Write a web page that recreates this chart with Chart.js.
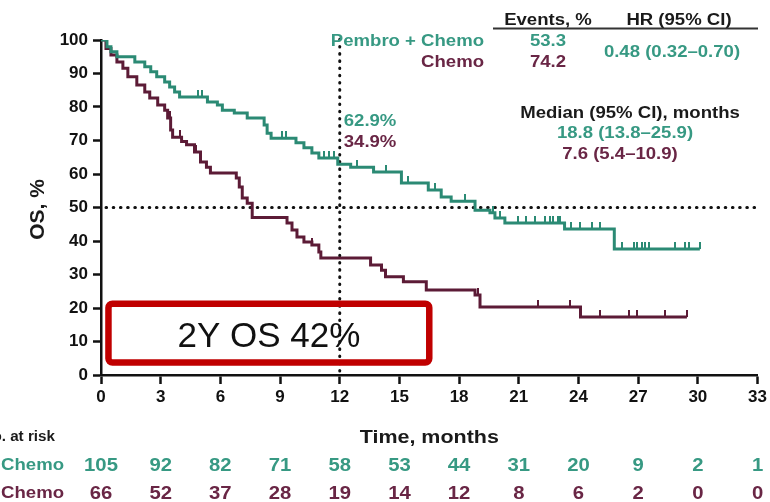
<!DOCTYPE html>
<html>
<head>
<meta charset="utf-8">
<script src="https://cdn.jsdelivr.net/npm/chart.js@4/dist/chart.umd.min.js"></script>
<style>
  html, body { margin: 0; padding: 0; background: #ffffff; }
  #wrap { width: 770px; height: 502px; }
</style>
</head>
<body>
<div id="wrap"><canvas id="km" width="770" height="502"></canvas></div>
<script>
// Kaplan–Meier overall survival, Pembro + Chemo vs Chemo
const months = [0, 3, 6, 9, 12, 15, 18, 21, 24, 27, 30, 33];

// Step points: time of event (months) and survival after the event (%)
const pembroTimes = [0, 0.3, 0.5, 0.8, 1.7, 2.2, 2.5, 2.8, 3.2, 3.45, 3.7, 3.95, 5.35, 5.85, 6.1, 6.7, 7.35, 8.2, 8.35, 8.55, 9.8, 10.2, 10.6, 10.95, 11.9, 12.55, 13.7, 15.1, 16.45, 17.1, 17.6, 18.8, 19.55, 19.8, 20.3, 23.3, 25.8, 30.1];
const pembroOS    = [100, 98, 96.5, 95, 93.4, 92, 90.5, 89, 87.5, 86, 84.5, 83, 81.5, 80.6, 79, 78.2, 76.7, 74.6, 72.2, 70.7, 69.3, 67.8, 66.3, 64.8, 62.9, 62, 60.6, 57.3, 55.2, 53.1, 51.9, 49.2, 48.4, 46.9, 45.4, 43.6, 37.6, 37.6];

const chemoTimes = [0, 0.25, 0.5, 0.8, 1.1, 1.35, 1.8, 2.2, 2.45, 2.85, 3.2, 3.35, 3.5, 3.6, 4.05, 4.3, 4.7, 5.0, 5.3, 5.5, 6.8, 6.95, 7.1, 7.35, 7.6, 9.35, 9.6, 9.85, 10.2, 10.6, 10.95, 11.05, 13.55, 14.1, 14.3, 15.2, 16.35, 18.8, 19.05, 24.1, 29.45];
const chemoOS    = [100, 97.5, 95.5, 93.4, 91.6, 89, 86.6, 84.5, 82.7, 80.6, 79, 76.7, 73.1, 71, 69.7, 68.7, 66.6, 63.6, 62, 60.3, 58.8, 56.1, 52.8, 51.3, 47, 45.4, 43.3, 41.2, 39.7, 38.8, 36.7, 34.9, 32.8, 31.3, 29.3, 27.8, 25.4, 23.9, 20.3, 17.3, 17.3];

// Censoring times (months)
const pembroCensored = [4.9, 5.1, 9.1, 9.3, 11.2, 11.45, 11.7, 12.85, 14.35, 15.45, 16.8, 18.3, 19.7, 20.05, 20.95, 21.35, 21.8, 22.3, 22.55, 22.7, 22.95, 23.05, 23.6, 24.1, 24.7, 25.1, 26.2, 26.8, 26.95, 27.2, 27.35, 27.55, 28.85, 29.35, 29.55, 30.1];
const chemoCensored  = [3.45, 3.95, 4.8, 10.6, 14.3, 18.95, 21.95, 23.55, 25.1, 26.55, 26.95, 28.35, 29.45];

// Number at risk at each tick
const atRiskPembro = [105, 92, 82, 71, 58, 53, 44, 31, 20, 9, 2, 1];
const atRiskChemo  = [66, 52, 37, 28, 19, 14, 12, 8, 6, 2, 0, 0];

// Summary statistics
const armNames   = ['Pembro + Chemo', 'Chemo'];
const eventsPct  = ['53.3', '74.2'];
const hazard     = '0.48 (0.32\u20130.70)';
const medians    = ['18.8 (13.8\u201325.9)', '7.6 (5.4\u201310.9)'];
const os12       = [62.9, 34.9];
const landmark   = 12;
const callout    = '2Y OS 42%';

const TEAL = '#2b8a74';
const TEAL_TXT = '#379983';
const MAROON = '#5c1b36';
const MAROON_TXT = '#692645';
const FONT = "'Liberation Sans', Arial, Helvetica, sans-serif";

function survivalAt(times, os, t) {
  let v = os[0];
  for (let i = 0; i < times.length; i++) { if (times[i] <= t) v = os[i]; }
  return v;
}

function censorMark(color) {
  const c = document.createElement('canvas');
  c.width = 2; c.height = 14;
  const g = c.getContext('2d');
  g.fillStyle = color;
  g.fillRect(0, 0, 2, 7);
  return c;
}

function drawText(ctx, s, x, y, o) {
  ctx.save();
  ctx.font = (o.weight || 'bold') + ' ' + o.size + 'px ' + FONT;
  ctx.fillStyle = o.color || '#111';
  ctx.textAlign = o.align || 'center';
  ctx.textBaseline = o.baseline || 'alphabetic';
  ctx.translate(x, y);
  if (o.rotate) ctx.rotate(o.rotate);
  ctx.scale(o.sx || 1, 1);
  ctx.fillText(s, 0, 0);
  ctx.restore();
}

function dotted(ctx, x1, y1, x2, y2) {
  ctx.save();
  ctx.strokeStyle = '#111';
  ctx.lineWidth = 3;
  ctx.lineCap = 'round';
  ctx.setLineDash([0.6, 6.6]);
  ctx.beginPath();
  ctx.moveTo(x1, y1);
  ctx.lineTo(x2, y2);
  ctx.stroke();
  ctx.restore();
}

const guides = {
  id: 'guides',
  beforeDatasetsDraw(chart) {
    const { ctx, scales: { x, y } } = chart;
    dotted(ctx, x.getPixelForValue(0) + 5, y.getPixelForValue(50), x.getPixelForValue(33), y.getPixelForValue(50));
    dotted(ctx, x.getPixelForValue(landmark), y.getPixelForValue(0) - 4, x.getPixelForValue(landmark), y.getPixelForValue(101));
  },
  afterDatasetsDraw(chart) {
    const { ctx, scales: { x, y } } = chart;
    const SX = 1.16;

    // Callout box
    const bx1 = x.getPixelForValue(0.375), bx2 = x.getPixelForValue(16.5);
    const by1 = y.getPixelForValue(21.3), by2 = y.getPixelForValue(3.7);
    ctx.save();
    ctx.strokeStyle = '#c00000';
    ctx.lineWidth = 6.5;
    ctx.beginPath();
    ctx.roundRect(bx1, by1, bx2 - bx1, by2 - by1, 4);
    ctx.stroke();
    ctx.restore();
    drawText(ctx, callout, (bx1 + bx2) / 2, by2 - 16, { size: 35, weight: 'normal', color: '#111' });

    // Landmark values
    const lx = x.getPixelForValue(landmark) + 4;
    drawText(ctx, os12[0].toFixed(1) + '%', lx, 126, { size: 16, color: TEAL_TXT, align: 'left', sx: SX });
    drawText(ctx, os12[1].toFixed(1) + '%', lx, 147, { size: 16, color: MAROON_TXT, align: 'left', sx: SX });

    // Summary table
    drawText(ctx, 'Events, %', 548, 25, { size: 16, color: '#1a1a1a', sx: SX });
    drawText(ctx, 'HR (95% CI)', 679, 25, { size: 16, color: '#1a1a1a', sx: SX });
    ctx.save();
    ctx.strokeStyle = '#333';
    ctx.lineWidth = 1.8;
    ctx.beginPath();
    ctx.moveTo(493, 28.5);
    ctx.lineTo(758, 28.5);
    ctx.stroke();
    ctx.restore();
    drawText(ctx, armNames[0], 484, 46, { size: 16, color: TEAL_TXT, align: 'right', sx: SX });
    drawText(ctx, armNames[1], 484, 67, { size: 16, color: MAROON_TXT, align: 'right', sx: SX });
    drawText(ctx, eventsPct[0], 548, 46, { size: 16, color: TEAL_TXT, sx: SX });
    drawText(ctx, eventsPct[1], 548, 67, { size: 16, color: MAROON_TXT, sx: SX });
    drawText(ctx, hazard, 672, 57, { size: 16, color: TEAL_TXT, sx: SX });
    drawText(ctx, 'Median (95% CI), months', 630, 118, { size: 16, color: '#1a1a1a', sx: SX });
    drawText(ctx, medians[0], 625, 138, { size: 16, color: TEAL_TXT, sx: SX });
    drawText(ctx, medians[1], 620, 159, { size: 16, color: MAROON_TXT, sx: SX });

    // Axis titles
    drawText(ctx, 'OS, %', 44, y.getPixelForValue(50) + 2, { size: 21, color: '#1a1a1a', rotate: -Math.PI / 2 });
    drawText(ctx, 'Time, months', (x.left + x.right) / 2, 443, { size: 18.5, color: '#1a1a1a', sx: SX });

    // Number at risk
    drawText(ctx, 'No. at risk', 55, 441, { size: 14.5, color: '#1a1a1a', align: 'right', sx: 1.05 });
    drawText(ctx, armNames[0], 64, 470, { size: 16, color: TEAL_TXT, align: 'right', sx: SX });
    drawText(ctx, armNames[1], 64, 498, { size: 16, color: MAROON_TXT, align: 'right', sx: SX });
    months.forEach((m, i) => {
      const px = x.getPixelForValue(m);
      drawText(ctx, String(atRiskPembro[i]), px, 470.5, { size: 17.5, color: TEAL_TXT, sx: SX });
      drawText(ctx, String(atRiskChemo[i]), px, 498.5, { size: 17.5, color: MAROON_TXT, sx: SX });
    });
  }
};

const toPoints = (ts, vs) => ts.map((t, i) => ({ x: t, y: vs[i] }));
const censorPoints = (cs, ts, vs) => cs.map(t => ({ x: t, y: survivalAt(ts, vs, t) }));

Chart.defaults.font.family = FONT;

new Chart(document.getElementById('km'), {
  type: 'line',
  data: {
    datasets: [
      {
        label: armNames[0],
        data: toPoints(pembroTimes, pembroOS),
        stepped: 'before',
        borderColor: TEAL,
        borderWidth: 3,
        pointRadius: 0,
        fill: false
      },
      {
        label: armNames[1],
        data: toPoints(chemoTimes, chemoOS),
        stepped: 'before',
        borderColor: MAROON,
        borderWidth: 3,
        pointRadius: 0,
        fill: false
      },
      {
        label: armNames[0] + ' censored',
        data: censorPoints(pembroCensored, pembroTimes, pembroOS),
        showLine: false,
        pointStyle: censorMark(TEAL),
        pointRadius: 5,
        pointHoverRadius: 5
      },
      {
        label: armNames[1] + ' censored',
        data: censorPoints(chemoCensored, chemoTimes, chemoOS),
        showLine: false,
        pointStyle: censorMark(MAROON),
        pointRadius: 5,
        pointHoverRadius: 5
      }
    ]
  },
  options: {
    responsive: false,
    animation: false,
    devicePixelRatio: 1,
    layout: { padding: { top: 40, right: 9, left: 0, bottom: 0 } },
    plugins: { legend: { display: false }, tooltip: { enabled: false } },
    scales: {
      x: {
        type: 'linear',
        min: 0,
        max: 33,
        afterFit: s => { s.height = 127; },
        afterBuildTicks: s => { s.ticks = months.map(v => ({ value: v })); },
        ticks: { color: '#111', font: { size: 17, weight: 'bold' }, padding: 3, maxRotation: 0, autoSkip: false },
        grid: { drawOnChartArea: false, drawTicks: true, tickLength: 9, tickWidth: 2.5, tickColor: '#111' },
        border: { color: '#111', width: 2.5 }
      },
      y: {
        min: 0,
        max: 100,
        afterFit: s => { s.width = 101; },
        ticks: { stepSize: 10, color: '#111', font: { size: 17, weight: 'bold' }, padding: 5 },
        grid: { drawOnChartArea: false, drawTicks: true, tickLength: 8, tickWidth: 2.5, tickColor: '#111' },
        border: { color: '#111', width: 2.5 }
      }
    }
  },
  plugins: [guides]
});
</script>
</body>
</html>
